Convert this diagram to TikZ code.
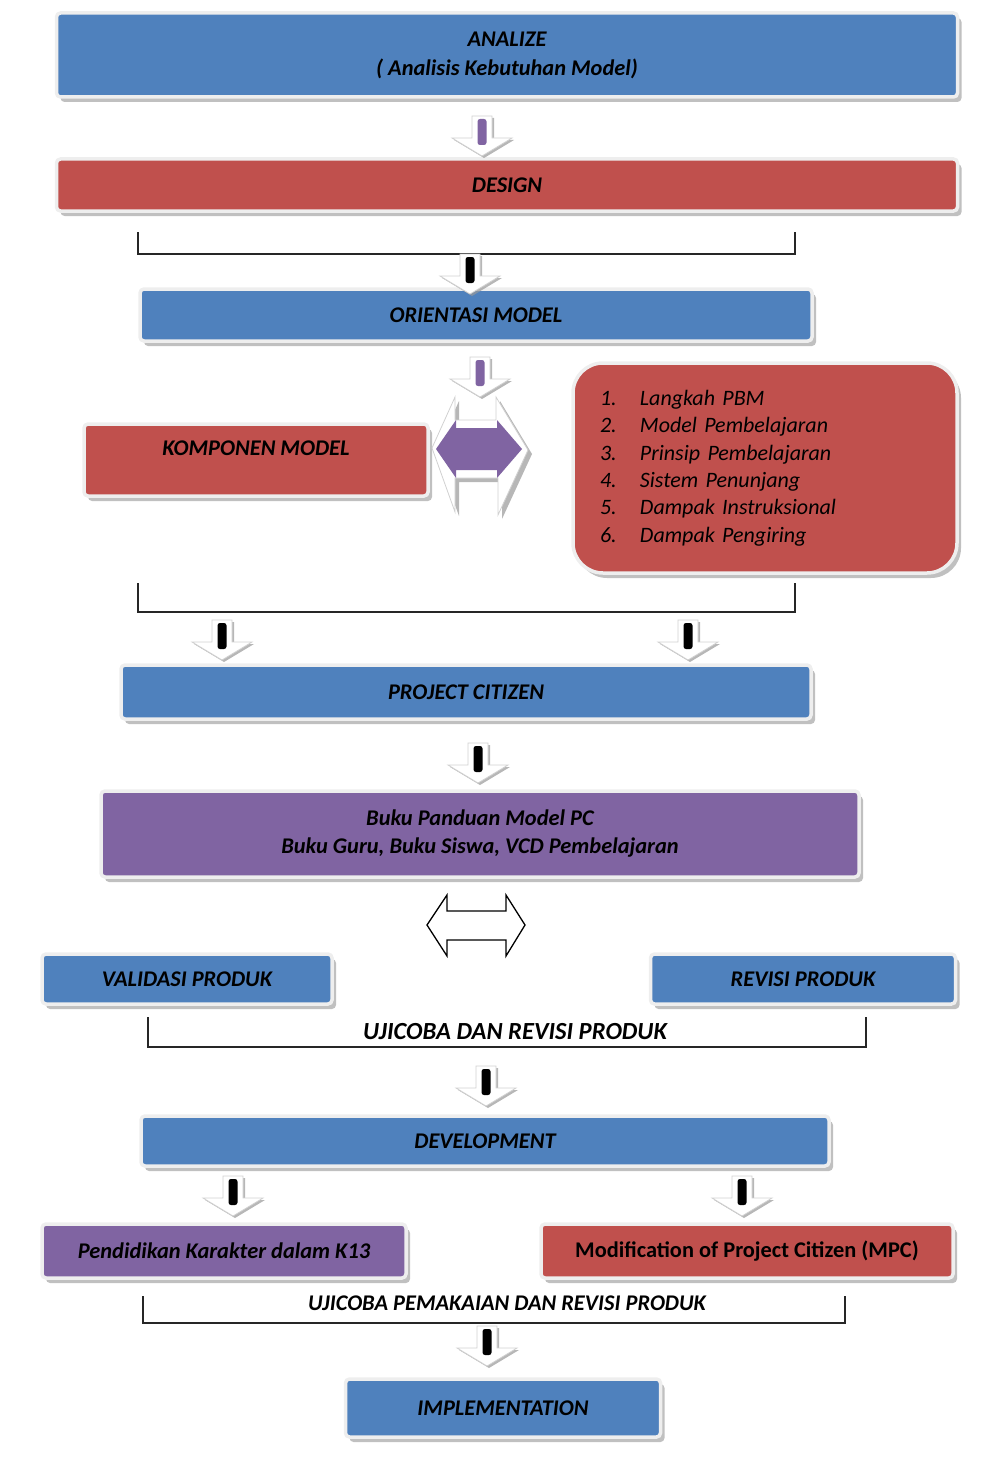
\documentclass[tikz,border=0pt]{standalone}
\usepackage{fontspec}
\setmainfont{Carlito}
\usetikzlibrary{shadows,calc}
\definecolor{cblue}{HTML}{4F81BD}
\definecolor{cred}{HTML}{C0504D}
\definecolor{cpurple}{HTML}{8064A2}
\definecolor{glow}{HTML}{EEEEEE}
\newcommand\boxfont{\fontsize{22.4}{27}\selectfont\bfseries\itshape}

\tikzset{
  box/.style={rectangle, rounded corners=4pt, draw=glow, line width=3.5pt,
    drop shadow={shadow xshift=4pt, shadow yshift=-5pt, fill=black!45, opacity=0.55},
    font=\boxfont, text=black, align=center, inner sep=0pt},
  bluebox/.style={box, fill=cblue},
  redbox/.style={box, fill=cred},
  purplebox/.style={box, fill=cpurple},
  bracket/.style={draw=black!85, line width=1.3pt},
  brlabel/.style={font=\boxfont, text=black, inner sep=0pt},
  % block arrow pointing down, top centre at the pic origin
  pics/downarrow/.style={code={
    \fill[black!40, opacity=0.7] (-8,2) -- (12,2) -- (12,24) -- (32,24) -- (2,42) -- (-28,24) -- (-8,24) -- cycle;
    \filldraw[fill=white, draw=black!18, line width=0.8pt]
      (-10,0) -- (10,0) -- (10,22) -- (30,22) -- (0,40) -- (-30,22) -- (-10,22) -- cycle;
    \fill[#1, rounded corners=2.5pt] (-4.5,3) rectangle (4.5,29);
  }},
}

\begin{document}
\begin{tikzpicture}[x=1pt, y=-1pt]
\useasboundingbox (0,0) rectangle (981,1458);

% ---- main boxes ----
\node[bluebox, minimum width=901, minimum height=84, font=\fontsize{22.4}{29}\selectfont\bfseries\itshape] (analize) at (507,55)
  {ANALIZE\\( Analisis Kebutuhan Model)};
\node[redbox, minimum width=901, minimum height=52] (design) at (507,185) {DESIGN};
\node[bluebox, minimum width=672, minimum height=52] (orient) at (476,315) {ORIENTASI MODEL};
\node[redbox, minimum width=344, minimum height=72, text height=16pt, text depth=26pt] (komp) at (256,460) {KOMPONEN MODEL};
\node[redbox, rounded corners=30pt, minimum width=384, minimum height=210,
      text width=330, align=left, font=\fontsize{22}{27.3}\selectfont\itshape] (list) at (765,468)
  {\makebox[40pt][l]{1.}Langkah PBM\\
   \makebox[40pt][l]{2.}Model Pembelajaran\\
   \makebox[40pt][l]{3.}Prinsip Pembelajaran\\
   \makebox[40pt][l]{4.}Sistem Penunjang\\
   \makebox[40pt][l]{5.}Dampak Instruksional\\
   \makebox[40pt][l]{6.}Dampak Pengiring};
\node[bluebox, minimum width=690, minimum height=54] (pc) at (466,692) {PROJECT CITIZEN};
\node[purplebox, minimum width=758, minimum height=86, font=\fontsize{22.4}{28}\selectfont\bfseries\itshape] (buku) at (480,834)
  {Buku Panduan Model PC\\Buku Guru, Buku Siswa, VCD Pembelajaran};
\node[bluebox, minimum width=290, minimum height=50] (valid) at (187,979) {VALIDASI PRODUK};
\node[bluebox, minimum width=305, minimum height=50] (revisi) at (803,979) {REVISI PRODUK};
\node[bluebox, minimum width=688, minimum height=50] (dev) at (485,1141) {DEVELOPMENT};
\node[purplebox, minimum width=364, minimum height=54] (pend) at (224,1251) {Pendidikan Karakter dalam K13};
\node[redbox, minimum width=412, minimum height=54, font=\fontsize{22.4}{27}\selectfont\bfseries] (mpc) at (747,1251)
  {Modification of Project Citizen (MPC)};
\node[bluebox, minimum width=315, minimum height=58] (impl) at (503,1408) {IMPLEMENTATION};

% ---- brackets ----
\draw[bracket] (138,232) -- (138,254) -- (795,254) -- (795,232);
\draw[bracket] (138,583) -- (138,612) -- (795,612) -- (795,583);
\draw[bracket] (148,1017) -- (148,1047) -- (866,1047) -- (866,1017);
\node[brlabel, font=\fontsize{24.6}{29}\selectfont\bfseries\itshape] (uji1) at (515,1032) {UJICOBA DAN REVISI PRODUK};
\draw[bracket] (143,1296) -- (143,1323) -- (845,1323) -- (845,1296);
\node[brlabel] (uji2) at (507,1303) {UJICOBA PEMAKAIAN DAN REVISI PRODUK};

% ---- block arrows between the stages ----
\coordinate (a1) at (482,116);
\coordinate (a2) at (470,254);
\coordinate (a3) at (480,357);
\coordinate (a4) at (222,620);
\coordinate (a5) at (688,620);
\coordinate (a6) at (478,743);
\coordinate (a7) at (486,1066);
\coordinate (a8) at (233,1176);
\coordinate (a9) at (742,1176);
\coordinate (a10) at (487,1326);
\pic at (a1) {downarrow=cpurple};
\pic at (a2) {downarrow=black};
\pic at (a3) {downarrow=cpurple};
\pic at (a4) {downarrow=black};
\pic at (a5) {downarrow=black};
\pic at (a6) {downarrow=black};
\pic at (a7) {downarrow=black};
\pic at (a8) {downarrow=black};
\pic at (a9) {downarrow=black};
\pic at (a10) {downarrow=black};

% ---- purple two-way arrow beside the model components ----
\fill[black!40, opacity=0.7] (436,452) -- (459,401) -- (459,424) -- (500,424) -- (500,401) -- (532,454)
  -- (502,519) -- (502,482) -- (459,482) -- (459,516) -- cycle;
\filldraw[fill=white, draw=black!18, line width=0.8pt]
  (432,448) -- (455,397) -- (455,420) -- (496,420) -- (496,397) -- (528,450)
  -- (498,515) -- (498,478) -- (455,478) -- (455,512) -- cycle;
\fill[cpurple] (436,449) -- (456,420) -- (456,428) -- (497,428) -- (497,420) -- (522,449)
  -- (497,478) -- (497,470) -- (456,470) -- (456,478) -- cycle;

% ---- outlined two-way arrow below the guide books ----
\draw[black, line width=1.3pt, fill=white]
  (427,925) -- (447,895) -- (447,911) -- (506,911) -- (506,895) -- (525,925)
  -- (506,956) -- (506,940) -- (447,940) -- (447,956) -- cycle;
\end{tikzpicture}
\end{document}
